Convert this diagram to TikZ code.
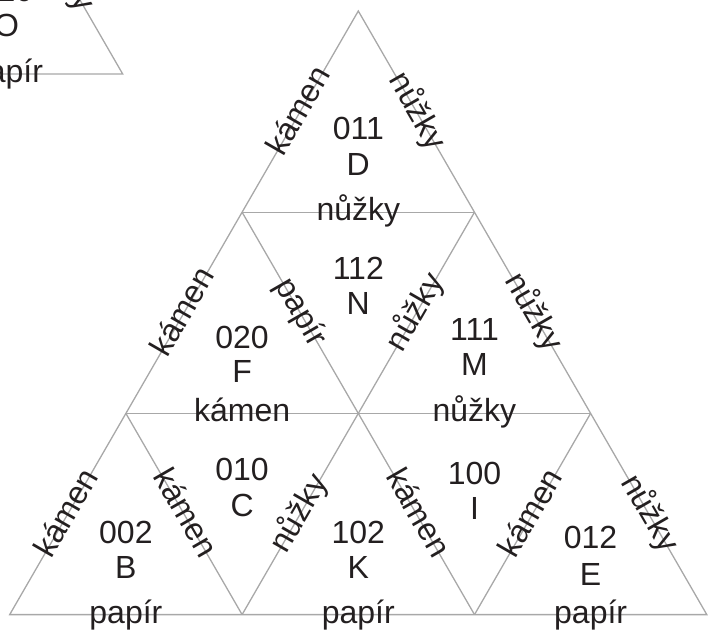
\documentclass[tikz,border=0pt]{standalone}
\usepackage{fontspec}
\setmainfont{Liberation Sans}
\usetikzlibrary{calc}
\definecolor{edgegray}{RGB}{168,168,168}
\definecolor{ink}{RGB}{35,31,32}
\begin{document}
\fontsize{32}{38}\selectfont
\begin{tikzpicture}[x=1pt,y=-1pt,
  tri/.style={draw=edgegray, line width=1.3pt, line join=miter},
  lbl/.style={text=ink, font=\fontsize{32}{38}\selectfont, inner sep=0pt},
  elbl/.style={lbl, anchor=mid},
  tlbl/.style={lbl, anchor=base}]
\useasboundingbox (0,0) rectangle (713,634);
\clip (0,0) rectangle (713,634);
% vertices
\coordinate (P0)  at (358.3,11.0);
\coordinate (P1a) at (242.1,212.2);
\coordinate (P1b) at (474.5,212.2);
\coordinate (P2a) at (125.9,413.4);
\coordinate (P2b) at (358.3,413.4);
\coordinate (P2c) at (590.6,413.4);
\coordinate (P3a) at (9.7,614.6);
\coordinate (P3b) at (242.1,614.6);
\coordinate (P3c) at (474.5,614.6);
\coordinate (P3d) at (706.8,614.6);
% fragment triangle (top left)
\coordinate (Qa) at (6.5,-127.2);
\coordinate (Ql) at (-109.6,74);
\coordinate (Qr) at (122.7,74);
% lines
\draw[tri] (P0) -- (P3a) -- (P3d) -- cycle;
\draw[tri] (P1a) -- (P1b);
\draw[tri] (P2a) -- (P2c);
\draw[tri] (P1b) -- (P3b);
\draw[tri] (P2c) -- (P3c);
\draw[tri] (P1a) -- (P3c);
\draw[tri] (P2a) -- (P3b);
\draw[tri] (Qa) -- (Ql) -- (Qr) -- cycle;
% edge labels
\node[elbl, rotate=60]  (eDl) at ($(P0)!0.5!(P1a)$) {kámen};
\node[elbl, rotate=-60] (eDr) at ($(P0)!0.5!(P1b)$) {nůžky};
\node[elbl]             (eDN) at ($(P1a)!0.5!(P1b)$) {nůžky};
\node[elbl, rotate=60]  (eFl) at ($(P1a)!0.5!(P2a)$) {kámen};
\node[elbl, rotate=-60] (eFN) at ($(P1a)!0.5!(P2b)$) {papír};
\node[elbl, rotate=60]  (eNM) at ($(P1b)!0.5!(P2b)$) {nůžky};
\node[elbl, rotate=-60] (eMr) at ($(P1b)!0.5!(P2c)$) {nůžky};
\node[elbl]             (eFC) at ($(P2a)!0.5!(P2b)$) {kámen};
\node[elbl]             (eMI) at ($(P2b)!0.5!(P2c)$) {nůžky};
\node[elbl, rotate=60]  (eBl) at ($(P2a)!0.5!(P3a)$) {kámen};
\node[elbl, rotate=-60] (eBC) at ($(P2a)!0.5!(P3b)$) {kámen};
\node[elbl, rotate=60]  (eCK) at ($(P2b)!0.5!(P3b)$) {nůžky};
\node[elbl, rotate=-60] (eKI) at ($(P2b)!0.5!(P3c)$) {kámen};
\node[elbl, rotate=60]  (eIE) at ($(P2c)!0.5!(P3c)$) {kámen};
\node[elbl, rotate=-60] (eEr) at ($(P2c)!0.5!(P3d)$) {nůžky};
\node[elbl]             (eBb) at ($(P3a)!0.5!(P3b)$) {papír};
\node[elbl]             (eKb) at ($(P3b)!0.5!(P3c)$) {papír};
\node[elbl]             (eEb) at ($(P3c)!0.5!(P3d)$) {papír};
\node[elbl, rotate=-60] (eOr) at ($(Qa)!0.5!(Qr)$) {nůžky};
\node[elbl]             (eOb) at ($(Ql)!0.5!(Qr)$) {papír};
% triangle codes
\node[tlbl] (nD) at (358.3,139.5) {011};
\node[tlbl] (lD) at (358.3,175.5) {D};
\node[tlbl] (nF) at (242.1,348.2) {020};
\node[tlbl] (lF) at (242.1,382.5) {F};
\node[tlbl] (nM) at (474.5,340.5) {111};
\node[tlbl] (lM) at (474.5,375.5) {M};
\node[tlbl] (nN) at (358.3,279.0) {112};
\node[tlbl] (lN) at (358.3,314.0) {N};
\node[tlbl] (nB) at (125.9,543.2) {002};
\node[tlbl] (lB) at (125.9,578.2) {B};
\node[tlbl] (nC) at (242.1,480.5) {010};
\node[tlbl] (lC) at (242.1,516.5) {C};
\node[tlbl] (nK) at (358.3,543.5) {102};
\node[tlbl] (lK) at (358.3,578.5) {K};
\node[tlbl] (nI) at (474.5,484.0) {100};
\node[tlbl] (lI) at (474.5,519.0) {I};
\node[tlbl] (nE) at (590.6,548.5) {012};
\node[tlbl] (lE) at (590.6,585.5) {E};
\node[tlbl] (nO) at (6.5,1.5) {120};
\node[tlbl] (lO) at (6.5,36.5) {O};
\end{tikzpicture}
\end{document}
